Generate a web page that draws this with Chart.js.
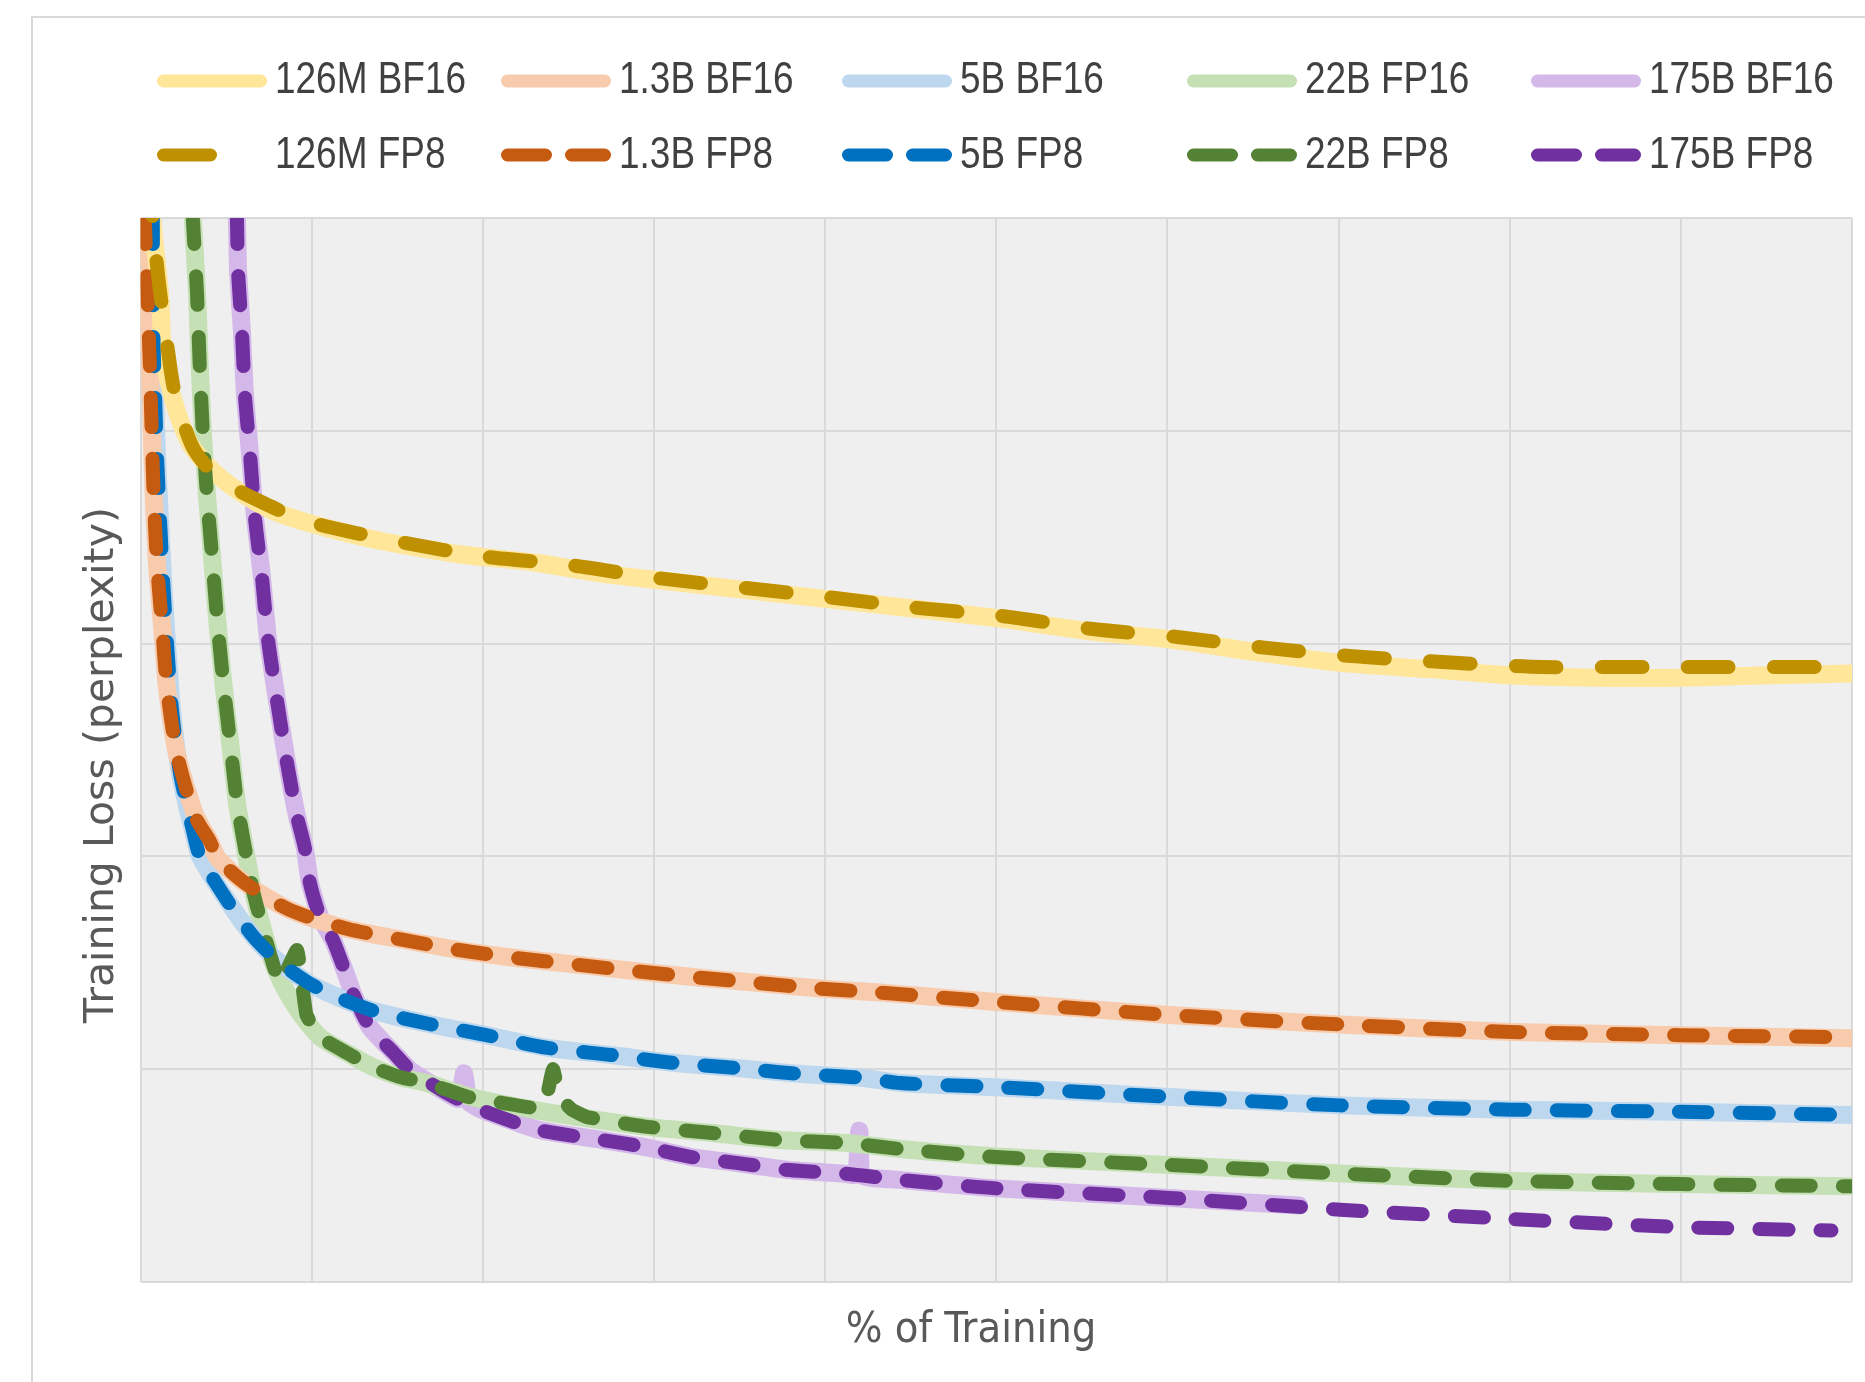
<!DOCTYPE html>
<html>
<head>
<meta charset="utf-8">
<title>Training Loss</title>
<script src="https://cdn.jsdelivr.net/npm/chart.js@4.4.1/dist/chart.umd.min.js"></script>
<style>
  html, body { margin: 0; padding: 0; background: #ffffff; }
  canvas { display: block; }
</style>
</head>
<body>
<canvas id="graficoLoss" width="1865" height="1382"></canvas>
<script>
/* ==========================================================================
   1. DATA (x = % of training, y = loss in grid units, no tick labels)
   ========================================================================== */
const labelsBf16 = ['126M BF16', '1.3B BF16', '5B BF16', '22B FP16', '175B BF16'];
const labelsFp8 = ['126M FP8', '1.3B FP8', '5B FP8', '22B FP8', '175B FP8'];

// 126M
const x126Bf = [0.45, 0.8, 1.14, 1.31, 1.9, 2.89, 4.24, 6.22, 8.15, 11.07, 14.2, 18.6, 23.1, 26.85, 30, 40, 50, 55.2, 60.1, 65.2, 70.1, 75.3, 80.1, 85, 90, 94.7, 100];
const y126Bf = [5.2, 4.9, 4.65, 4.37, 4.15, 3.94, 3.81, 3.69, 3.61, 3.54, 3.48, 3.42, 3.38, 3.33, 3.30, 3.21, 3.12, 3.06, 3.02, 2.96, 2.91, 2.88, 2.85, 2.84, 2.84, 2.85, 2.86];
const x126Fp8 = [0.5, 1.0, 1.6, 2.0, 3.07, 4.65, 7.74, 9.5, 12, 15, 20, 25, 30, 40, 45.1, 50.3, 55.5, 60.7, 65.8, 71, 76.8, 81.9, 86.8, 91.7, 97.2, 100];
const y126Fp8 = [5.2, 4.75, 4.38, 4.18, 3.92, 3.77, 3.64, 3.58, 3.53, 3.48, 3.41, 3.37, 3.31, 3.22, 3.17, 3.13, 3.07, 3.03, 2.98, 2.94, 2.91, 2.89, 2.89, 2.89, 2.89, 2.89];

// 1.3B
const x13Bf = [0.12, 0.26, 0.44, 0.56, 0.66, 0.78, 0.96, 1.26, 1.55, 2.13, 3.18, 4.06, 4.53, 6.1, 8.68, 12.07, 15.2, 18.6, 22.2, 25.6, 29, 32.7, 36.1, 39.5, 43.2, 50, 60.1, 70.1, 80.1, 90, 100];
const y13Bf = [5.3, 4.98, 4.56, 4.27, 3.98, 3.68, 3.38, 3.08, 2.79, 2.48, 2.2, 2.07, 1.99, 1.875, 1.75, 1.66, 1.61, 1.56, 1.52, 1.49, 1.46, 1.43, 1.405, 1.38, 1.36, 1.316, 1.255, 1.21, 1.175, 1.16, 1.145];
const x13Fp8 = [0.12, 0.26, 0.44, 0.56, 0.66, 0.78, 0.96, 1.26, 1.55, 2.13, 3.18, 4.06, 4.53, 6.1, 8.68, 12.07, 15.2, 18.6, 22.2, 25.6, 29, 32.7, 36.1, 39.5, 43.2, 50, 60.1, 70.1, 80.1, 90, 100];
const y13Fp8 = [5.3, 4.98, 4.56, 4.27, 3.98, 3.68, 3.38, 3.08, 2.79, 2.48, 2.19, 2.07, 1.99, 1.875, 1.75, 1.66, 1.61, 1.56, 1.52, 1.49, 1.46, 1.43, 1.405, 1.38, 1.36, 1.316, 1.255, 1.21, 1.175, 1.16, 1.15];

// 5B
const x5Bf = [0.70, 0.72, 0.75, 0.85, 0.96, 1.14, 1.31, 1.55, 1.84, 2.31, 3.07, 3.48, 5.05, 6.63, 8.15, 10.25, 13.4, 17, 20.2, 23.8, 27.5, 31.1, 34.8, 38.2, 42.1, 44.4, 50, 60.1, 70.1, 80.1, 90, 100];
const y5Bf = [5.3, 4.98, 4.46, 4.17, 3.89, 3.58, 3.31, 3.0, 2.69, 2.39, 2.12, 2.0, 1.795, 1.62, 1.5, 1.386, 1.28, 1.21, 1.16, 1.10, 1.067, 1.03, 1.006, 0.98, 0.96, 0.935, 0.915, 0.87, 0.83, 0.81, 0.80, 0.785];
const x5Fp8 = [0.70, 0.72, 0.75, 0.85, 0.96, 1.14, 1.31, 1.55, 1.84, 2.31, 3.07, 3.48, 5.05, 6.63, 8.15, 10.25, 13.4, 17, 20.2, 23.8, 27.5, 31.1, 34.8, 38.2, 42.1, 44.4, 50, 60.1, 70.1, 80.1, 90, 100];
const y5Fp8 = [5.3, 4.98, 4.46, 4.17, 3.89, 3.58, 3.31, 3.0, 2.69, 2.39, 2.12, 2.0, 1.795, 1.62, 1.5, 1.386, 1.28, 1.21, 1.16, 1.10, 1.067, 1.03, 1.006, 0.98, 0.96, 0.935, 0.916, 0.87, 0.83, 0.81, 0.80, 0.785];

// 22B
const x22Bf = [2.85, 3.07, 3.30, 3.48, 3.65, 3.89, 4.18, 4.47, 4.82, 5.23, 5.64, 6.1, 6.57, 7.16, 7.74, 8.56, 9.32, 10.49, 12.07, 13.58, 15.16, 16.74, 19.3, 22.6, 26.4, 29.5, 33.4, 37.4, 41.3, 44.4, 50, 60.1, 70.1, 80.1, 90, 100];
const y22Bf = [5.3, 4.98, 4.65, 4.27, 3.98, 3.69, 3.41, 3.12, 2.83, 2.54, 2.25, 2.04, 1.84, 1.655, 1.50, 1.36, 1.264, 1.151, 1.076, 1.01, 0.963, 0.935, 0.87, 0.815, 0.765, 0.73, 0.70, 0.667, 0.653, 0.625, 0.59, 0.55, 0.51, 0.475, 0.46, 0.45];
const x22Fp8 = [2.85, 3.07, 3.30, 3.48, 3.65, 3.89, 4.18, 4.47, 4.82, 5.23, 5.64, 6.1, 6.57, 7.16, 7.57, 8.15, 9.14, 9.44, 9.7, 10.49, 12.07, 13.58, 15.16, 16.74, 19.1, 20.2, 22.8, 23.6, 24.1, 24.5, 25.2, 26.1, 29.5, 33.4, 37.4, 41.3, 44.4, 50, 60.1, 70.1, 80.1, 90, 100];
const y22Fp8 = [5.3, 4.98, 4.65, 4.27, 3.98, 3.69, 3.41, 3.12, 2.83, 2.54, 2.25, 2.04, 1.84, 1.655, 1.54, 1.405, 1.56, 1.405, 1.255, 1.151, 1.076, 1.01, 0.963, 0.935, 0.87, 0.855, 0.82, 0.83, 1.0, 0.87, 0.81, 0.775, 0.73, 0.70, 0.667, 0.653, 0.625, 0.587, 0.55, 0.51, 0.475, 0.46, 0.45];

// 175B
const x175Bf = [5.56, 5.64, 5.70, 5.93, 6.1, 6.4, 6.69, 7.1, 7.45, 7.98, 8.56, 9.14, 9.6, 9.9, 10.5, 11.25, 12.07, 12.4, 13.4, 14.8, 15.75, 17.3, 18.6, 18.9, 19.2, 20.2, 23.3, 27, 29.5, 32.2, 34.8, 37.9, 41, 41.8, 42.0, 42.2, 44.4, 50, 60.1, 67.7];
const y175Bf = [5.3, 4.98, 4.75, 4.46, 4.17, 3.89, 3.59, 3.31, 3.02, 2.73, 2.44, 2.19, 2.04, 1.875, 1.715, 1.607, 1.433, 1.358, 1.198, 1.076, 0.996, 0.916, 0.86, 0.98, 0.845, 0.80, 0.714, 0.667, 0.634, 0.587, 0.56, 0.526, 0.51, 0.505, 0.71, 0.50, 0.48, 0.44, 0.395, 0.36];
const x175Fp8 = [5.56, 5.64, 5.70, 5.93, 6.1, 6.4, 6.69, 7.1, 7.45, 7.98, 8.56, 9.14, 9.6, 9.9, 10.5, 11.25, 12.07, 12.4, 13.4, 14.8, 15.75, 17.3, 18.3, 20.2, 23.3, 27, 29.5, 32.2, 34.8, 37.9, 41, 44.4, 50, 60.1, 70.1, 80.1, 90, 98.8];
const y175Fp8 = [5.3, 4.98, 4.75, 4.46, 4.17, 3.89, 3.59, 3.31, 3.02, 2.73, 2.44, 2.19, 2.04, 1.875, 1.715, 1.607, 1.433, 1.358, 1.198, 1.076, 0.996, 0.916, 0.87, 0.80, 0.714, 0.667, 0.634, 0.587, 0.56, 0.526, 0.51, 0.48, 0.44, 0.395, 0.34, 0.296, 0.258, 0.242];

/* ==========================================================================
   2. STYLES
   ========================================================================== */
const coloresBf16 = ['#ffe699', '#f8cbad', '#bdd7ee', '#c5e0b4', '#d5b8ea'];
const coloresFp8 = ['#bf9000', '#c55a11', '#0070c0', '#548235', '#7030a0'];
const dashFp8 = [[41, 45], [29, 32], [29, 32], [29, 32], [29, 32]];
const tensionFp8 = [0.25, 0.25, 0.25, 0.12, 0.25];
const tensionBf16 = [0.25, 0.25, 0.25, 0.25, 0.15];

const seriesBf16 = [[x126Bf, y126Bf], [x13Bf, y13Bf], [x5Bf, y5Bf], [x22Bf, y22Bf], [x175Bf, y175Bf]];
const seriesFp8 = [[x126Fp8, y126Fp8], [x13Fp8, y13Fp8], [x5Fp8, y5Fp8], [x22Fp8, y22Fp8], [x175Fp8, y175Fp8]];

function crearSerie(label, xs, ys, color, width, dash, tension, order) {
    return {
        label: label,
        data: xs.map((x, i) => ({ x: x, y: ys[i] })),
        borderColor: color,
        borderWidth: width,
        borderDash: dash,
        borderCapStyle: 'round',
        borderJoinStyle: 'round',
        pointRadius: 0,
        fill: false,
        tension: tension,
        order: order
    };
}

const datasets = [];
seriesBf16.forEach((s, i) => datasets.push(crearSerie(labelsBf16[i], s[0], s[1], coloresBf16[i], 18, [], tensionBf16[i], 2)));
seriesFp8.forEach((s, i) => datasets.push(crearSerie(labelsFp8[i], s[0], s[1], coloresFp8[i], 14, dashFp8[i], tensionFp8[i], 1)));

/* ==========================================================================
   3. FRAME, LEGEND AND AXIS TITLES
   ========================================================================== */
const columnasLeyenda = [157, 501, 842, 1187, 1531];

// narrow legend text: regular sans squeezed horizontally
function textoAngosto(ctx, texto, x, y) {
    ctx.save();
    ctx.translate(x, y);
    ctx.scale(0.84, 1);
    ctx.fillText(texto, 0, 0);
    ctx.restore();
}

const decorado = {
    id: 'decorado',
    beforeDraw(chart) {
        const { ctx, chartArea: a } = chart;
        ctx.save();
        ctx.fillStyle = '#ffffff';
        ctx.fillRect(0, 0, chart.width, chart.height);
        ctx.strokeStyle = '#d9d9d9';
        ctx.lineWidth = 2;
        ctx.strokeRect(32, 17, chart.width + 40, chart.height + 40);
        ctx.fillStyle = '#efefef';
        ctx.fillRect(a.left, a.top, a.right - a.left, a.bottom - a.top);
        ctx.restore();
    },
    afterDraw(chart) {
        const ctx = chart.ctx;
        ctx.save();
        ctx.lineCap = 'round';
        ctx.lineWidth = 13;

        columnasLeyenda.forEach((x0, i) => {
            // row 1: solid BF16 samples
            ctx.setLineDash([]);
            ctx.strokeStyle = coloresBf16[i];
            ctx.beginPath();
            ctx.moveTo(x0 + 6.5, 81);
            ctx.lineTo(x0 + 103.5, 81);
            ctx.stroke();

            // row 2: dashed FP8 samples
            ctx.strokeStyle = coloresFp8[i];
            ctx.beginPath();
            if (i === 0) {
                ctx.moveTo(x0 + 6.5, 155);
                ctx.lineTo(x0 + 53.5, 155);
            } else {
                ctx.setLineDash([38, 26]);
                ctx.moveTo(x0 + 6.5, 155);
                ctx.lineTo(x0 + 103.5, 155);
            }
            ctx.stroke();

            ctx.setLineDash([]);
            ctx.fillStyle = '#404040';
            ctx.font = '44px "Liberation Sans", Arial, sans-serif';
            ctx.textAlign = 'left';
            ctx.textBaseline = 'alphabetic';
            textoAngosto(ctx, labelsBf16[i], x0 + 118, 93);
            textoAngosto(ctx, labelsFp8[i], x0 + 118, 168);
        });

        // axis titles
        ctx.fillStyle = '#595959';
        ctx.font = '43px "DejaVu Sans Condensed", sans-serif';
        ctx.textAlign = 'center';
        ctx.fillText('% of Training', 971, 1342);

        ctx.translate(113, 765);
        ctx.rotate(-Math.PI / 2);
        ctx.font = '41px "DejaVu Sans", sans-serif';
        ctx.fillText('Training Loss (perplexity)', 0, 0);
        ctx.restore();
    }
};

/* ==========================================================================
   4. CHART
   ========================================================================== */
const gridOpts = { color: '#d9d9d9', lineWidth: 2, drawTicks: false };

new Chart(document.getElementById('graficoLoss').getContext('2d'), {
    type: 'line',
    data: { datasets: datasets },
    options: {
        responsive: false,
        animation: false,
        devicePixelRatio: 1,
        layout: { padding: { top: 218, right: 13, bottom: 0, left: 0 } },
        plugins: {
            legend: { display: false },
            tooltip: { enabled: false }
        },
        scales: {
            x: {
                type: 'linear',
                min: 0,
                max: 100,
                ticks: { stepSize: 10, display: false },
                grid: gridOpts,
                border: { display: false },
                afterFit: (scale) => { scale.height = 100; }
            },
            y: {
                type: 'linear',
                min: 0,
                max: 5,
                ticks: { stepSize: 1, display: false },
                grid: gridOpts,
                border: { display: false },
                afterFit: (scale) => { scale.width = 140.5; }
            }
        }
    },
    plugins: [decorado]
});
</script>
</body>
</html>
